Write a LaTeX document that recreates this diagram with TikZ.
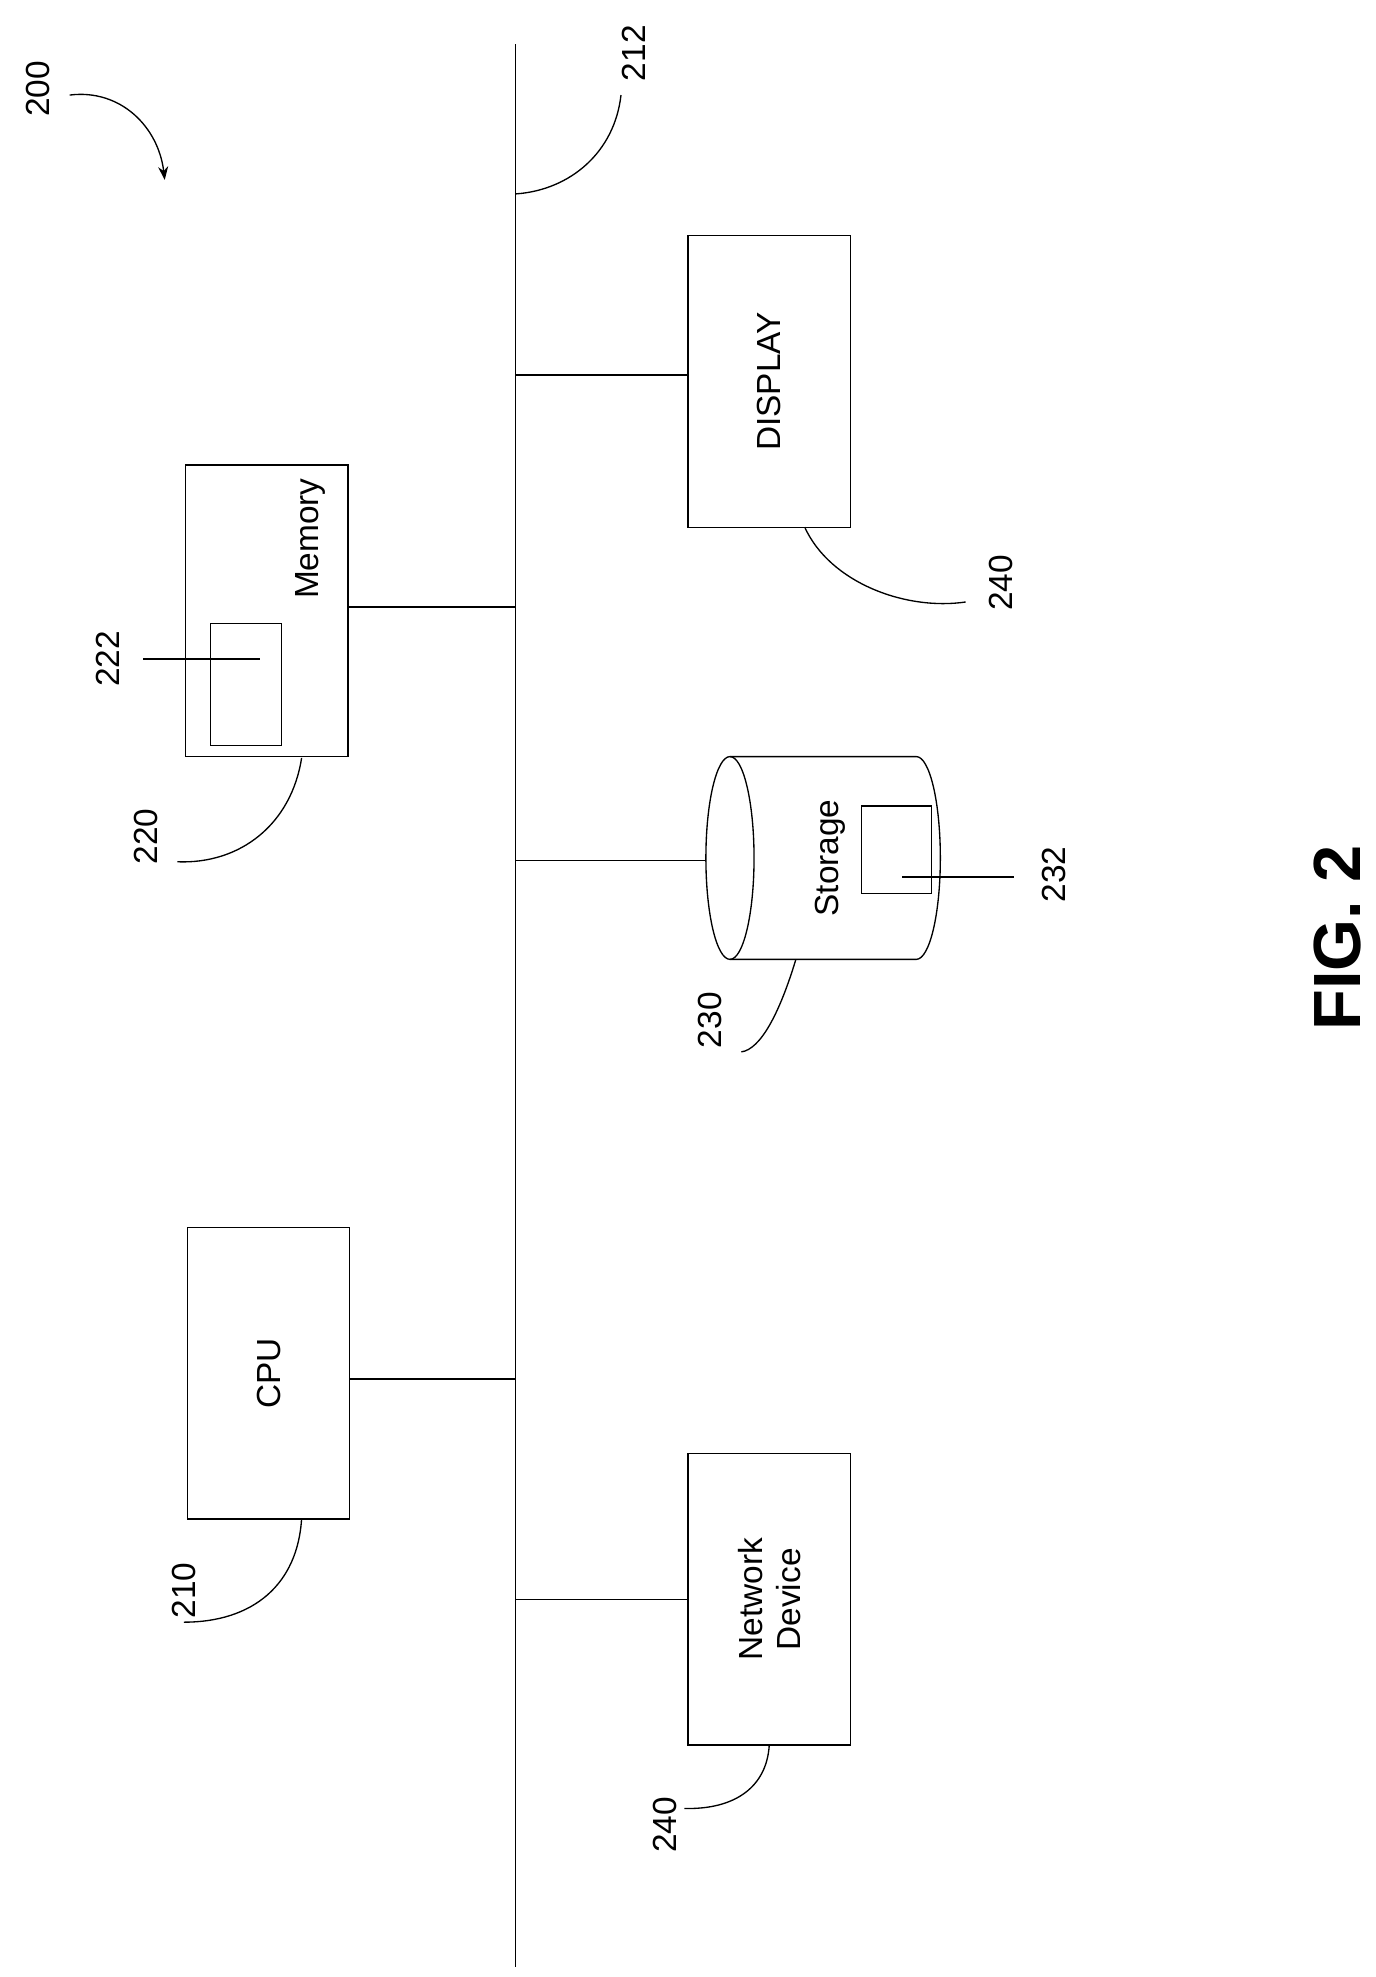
\documentclass[tikz,border=0pt]{standalone}
\usepackage{fontspec}
\setmainfont{Liberation Sans}
\usetikzlibrary{positioning,arrows.meta}
\begin{document}
\begin{tikzpicture}[x=0.02cm,y=-0.02cm, semithick,
  every node/.style={font=\fontsize{15}{17}\selectfont, rotate=90},
  box/.style={draw, minimum width=230*0.02cm, minimum height=128*0.02cm, inner sep=0pt},
  lbl/.style={inner sep=1pt}]
\useasboundingbox (0,0) rectangle (1085,1560);
% bus
\coordinate (bustop) at (407,35);
\coordinate (busbot) at (407,1552);
\draw (bustop) -- (busbot);
\node[lbl] (l212) at (500,42) {212};
\coordinate (c212) at (407,153);
\draw (c212) .. controls (450,150) and (485,120) .. (490,75);
\node[lbl] (l200) at (30,70) {200};
\coordinate (a200) at (130,142);
\draw[-{Stealth[length=6pt]}] (55,75) .. controls (95,70) and (125,100) .. (a200);

% display
\node[box] (Display) at (607,301) {DISPLAY};
\draw (407,296) -- (Display.north |- 0,296);
\node[lbl] (l240a) at (790,460) {240};
\draw (635,416) .. controls (655,460) and (715,482) .. (762,475);

% memory
\node[box] (Memory) at (210.5,482) {};
\node (memtxt) at (245,425) {Memory};
\node[draw, minimum width=96*0.02cm, minimum height=56*0.02cm, inner sep=0pt] (Buf) at (194,540) {};
\node[lbl] (l222) at (85,520) {222};
\draw (113,520) -- (205,520);
\draw (Memory.south |- 0,479) -- (407,479);
\node[lbl] (l220) at (115,660) {220};
\draw (238,598) .. controls (230,650) and (190,682) .. (140,680);

% storage
\coordinate (Storage) at (557,679);
\draw (576,677) ellipse [x radius=19, y radius=80];
\draw (576,597) -- (723,597) arc [start angle=-90, end angle=90, x radius=19, y radius=80] -- (576,757);
\node (stotxt) at (655,677) {Storage};
\node[draw, minimum width=69*0.02cm, minimum height=55*0.02cm, inner sep=0pt] (Disk) at (707.5,670.5) {};
\node[lbl] (l232) at (832,690) {232};
\draw (712,692) -- (800,692);
\draw (407,679) -- (Storage);
\node[lbl] (l230) at (560,805) {230};
\draw (628,757) .. controls (615,800) and (600,828) .. (585,830);

% cpu
\node[box] (CPU) at (212,1083.5) {CPU};
\draw (CPU.south |- 0,1088) -- (407,1088);
\node[lbl] (l210) at (145,1255) {210};
\draw (238,1198) .. controls (235,1250) and (200,1280) .. (145,1280);

% network device
\node[box, align=center] (Net) at (607,1262) {Network\\Device};
\draw (407,1262) -- (Net.north |- 0,1262);
\node[lbl] (l240b) at (525,1440) {240};
\draw (607,1377) .. controls (605,1410) and (580,1428) .. (540,1427);

\node[font=\bfseries\fontsize{30}{36}\selectfont] (fig) at (1055,740) {FIG. 2};
\end{tikzpicture}
\end{document}
